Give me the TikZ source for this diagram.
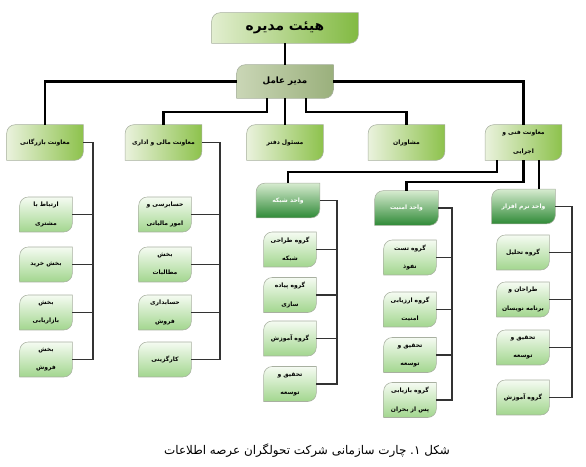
\documentclass[tikz,border=0pt]{standalone}
\usepackage{fontspec}
\usepackage{xcolor}
\usepackage{tikz}
\usetikzlibrary{calc,backgrounds}

\newfontfamily\farsi[Script=Arabic]{DejaVu Sans}
% no-break space kept inside the word, so each label is shaped as one right-to-left run
\catcode"A0=12

\definecolor{boardL}{HTML}{E2EED0}
\definecolor{boardR}{HTML}{82BA42}
\definecolor{ceoL}{HTML}{CAD6B6}
\definecolor{ceoR}{HTML}{9AB07C}
\definecolor{depL}{HTML}{EAF2DD}
\definecolor{depR}{HTML}{8DC24C}
\definecolor{unitT}{HTML}{D6EBCF}
\definecolor{unitB}{HTML}{2F8A37}
\definecolor{leafT}{HTML}{F5FBF2}
\definecolor{leafB}{HTML}{A2D68E}
\definecolor{edge}{HTML}{A8B0A0}

% box with rounded top-left and bottom-right corners
\def\rc{6pt}
\newcommand{\orgshape}[2]{%
  \path[#2] ($(#1.north west)+(0,-\rc)$) arc[start angle=180,end angle=90,radius=\rc]
    -- (#1.north east) -- ($(#1.south east)+(0,\rc)$)
    arc[start angle=0,end angle=-90,radius=\rc] -- (#1.south west) -- cycle;}

\begin{document}
\begin{tikzpicture}[
  x=0.025cm, y=-0.025cm,
  every node/.style={inner sep=0pt, align=center},
  orgbox/.style={font=\farsi\bfseries\fontsize{4.3}{13}\selectfont},
  topbox/.style={minimum width=3.65cm, minimum height=0.75cm,
    font=\farsi\bfseries\fontsize{9.8}{10}\selectfont},
  ceobox/.style={minimum width=2.4cm, minimum height=0.825cm,
    font=\farsi\bfseries\fontsize{6.2}{10}\selectfont},
  depbox/.style={orgbox, minimum width=1.9cm, minimum height=0.875cm},
  unitbox/.style={orgbox, text=white, minimum width=1.575cm, minimum height=0.85cm},
  leafbox/.style={orgbox, minimum width=1.3cm, minimum height=0.86cm},
  boardfill/.style={draw=edge, left color=boardL, right color=boardR},
  ceofill/.style={draw=edge, left color=ceoL, right color=ceoR},
  depfill/.style={draw=edge, left color=depL, right color=depR},
  unitfill/.style={draw=edge, top color=unitT, bottom color=unitB},
  leaffill/.style={draw=edge, top color=leafT, bottom color=leafB},
  mainline/.style={line width=1.6pt, black},
  subline/.style={line width=1.1pt, black!80},
]
\useasboundingbox (0,0) rectangle (586,467);

% Top
\node[topbox] (board) at (285,28) {هیئت^^a0مدیره};
\node[ceobox] (ceo) at (285,81.5) {مدیر^^a0عامل};

% Deputies
\node[depbox] (bazar) at (45,142.5) {معاونت^^a0بازرگانی};
\node[depbox] (mali) at (163.5,142.5) {معاونت^^a0مالی^^a0و^^a0اداری};
\node[depbox] (office) at (285,142.5) {مسئول^^a0دفتر};
\node[depbox] (advisors) at (406.5,142.5) {مشاوران};
\node[depbox] (tech) at (523.5,142.5) {معاونت^^a0فنی^^a0و\\اجرایی};

% Commerce
\node[leafbox] (baz1) at (46,214.5) {ارتباط^^a0با\\مشتری};
\node[leafbox] (baz2) at (46,264.5) {بخش^^a0خرید};
\node[leafbox] (baz3) at (46,312.5) {بخش\\بازاریابی};
\node[leafbox] (baz4) at (46,359.5) {بخش\\فروش};

% Finance
\node[leafbox] (mal1) at (165,214.5) {حسابرسی^^a0و\\امور^^a0مالیاتی};
\node[leafbox] (mal2) at (165,264.5) {بخش\\مطالبات};
\node[leafbox] (mal3) at (165,312.5) {حسابداری\\فروش};
\node[leafbox] (mal4) at (165,359.5) {کارگزینی};

% Units
\node[unitbox] (net) at (288,200.5) {واحد^^a0شبکه};
\node[unitbox] (sec) at (406.5,208) {واحد^^a0امنیت};
\node[unitbox] (soft) at (523.5,206.5) {واحد^^a0نرم^^a0افزار};

\node[leafbox] (net1) at (290,249.5) {گروه^^a0طراحی\\شبکه};
\node[leafbox] (net2) at (290,295) {گروه^^a0پیاده\\سازی};
\node[leafbox] (net3) at (290,338.5) {گروه^^a0آموزش};
\node[leafbox] (net4) at (290,384) {تحقیق^^a0و\\توسعه};

\node[leafbox] (sec1) at (410,257.5) {گروه^^a0تست\\نفوذ};
\node[leafbox] (sec2) at (410,309.5) {گروه^^a0ارزیابی\\امنیت};
\node[leafbox] (sec3) at (410,355) {تحقیق^^a0و\\توسعه};
\node[leafbox] (sec4) at (410,400) {گروه^^a0بازیابی\\پس^^a0از^^a0بحران};

\node[leafbox] (soft1) at (523,252.5) {گروه^^a0تحلیل};
\node[leafbox] (soft2) at (523,299.5) {طراحان^^a0و\\برنامه^^a0نویسان};
\node[leafbox] (soft3) at (523,347.5) {تحقیق^^a0و\\توسعه};
\node[leafbox] (soft4) at (523,397.5) {گروه^^a0آموزش};

% Box shapes
\begin{scope}[on background layer]
  \orgshape{board}{boardfill}
  \orgshape{ceo}{ceofill}
  \foreach \n in {bazar,mali,office,advisors,tech} {\orgshape{\n}{depfill}}
  \foreach \n in {net,sec,soft} {\orgshape{\n}{unitfill}}
  \foreach \n in {baz,mal,net,sec,soft} {
    \foreach \i in {1,...,4} {\orgshape{\n\i}{leaffill}}
  }
\end{scope}

% Main connectors
\draw[mainline] (board) -- (ceo);
\draw[mainline] (ceo.west) -| (bazar.north);
\draw[mainline] ($(ceo.south)+(-18,0)$) -- ++(0,14) -| (mali.north);
\draw[mainline] (ceo) -- (office);
\draw[mainline] ($(ceo.south)+(21,0)$) -- ++(0,14) -| (advisors.north);
\draw[mainline] (ceo.east) -| (tech.north);
\draw[mainline] ($(tech.south)+(-26.5,0)$) -- ++(0,12) -| (net.north);
\draw[mainline] (tech.south) -- ++(0,22) -| (sec.north);
\draw[mainline] ($(tech.south)+(15.5,0)$) -- ($(soft.north)+(15.5,0)$);

% Sub connectors
\coordinate (bazbus) at (93,142.5);
\coordinate (malbus) at (220,142.5);
\coordinate (netbus) at (337,200.5);
\coordinate (secbus) at (452,208);
\coordinate (softbus) at (572,206.5);
\draw[subline] (bazar.east) -- (bazbus) |- (baz4.east);
\draw[subline] (mali.east) -- (malbus) |- (mal4.east);
\draw[subline] (net.east) -- (netbus) |- (net4.east);
\draw[subline] (sec.east) -- (secbus) |- (sec4.east);
\draw[subline] (soft.east) -- (softbus) |- (soft4.east);
\foreach \n in {baz,mal,net,sec,soft} {
  \foreach \i in {1,2,3} {\draw[subline] (\n\i.east) -- (\n\i.east -| \n bus);}
}

% Caption
\node[font=\farsi\fontsize{8.5}{11}\selectfont] (caption) at (307,451)
  {شکل^^a0۱.^^a0چارت^^a0سازمانی^^a0شرکت^^a0تحولگران^^a0عرصه^^a0اطلاعات};

\end{tikzpicture}
\end{document}
